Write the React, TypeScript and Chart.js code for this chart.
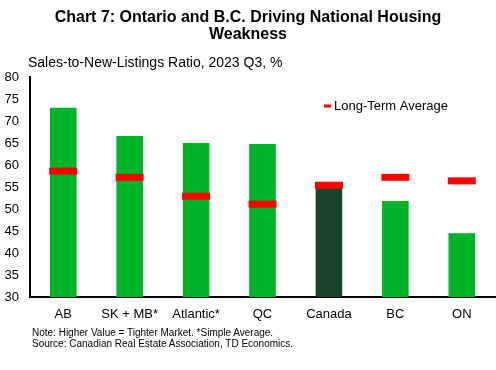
import React, { useEffect, useRef } from "react";
import { Chart, registerables } from "chart.js";

Chart.register(...registerables);

const categories = ["AB", "SK + MB*", "Atlantic*", "QC", "Canada", "BC", "ON"];
const currentValues = [73.0, 66.6, 65.0, 64.8, 55.1, 51.8, 44.5];
const longTermAverage = [58.6, 57.2, 52.9, 51.1, 55.4, 57.2, 56.4];
const barColors = ["#00B427", "#00B427", "#00B427", "#00B427", "#1A4429", "#00B427", "#00B427"];
const yMin = 30;
const yMax = 80;
const yStep = 5;

const FONT = "'Liberation Sans', Arial, sans-serif";

const legendPlugin = {
  id: "customLegend",
  afterDraw(chart: any) {
    const ctx = chart.ctx;
    ctx.save();
    ctx.strokeStyle = "#FF0000";
    ctx.lineWidth = 3;
    ctx.beginPath();
    ctx.moveTo(324, 106);
    ctx.lineTo(331, 106);
    ctx.stroke();
    ctx.fillStyle = "#000";
    ctx.font = `13px ${FONT}`;
    ctx.textBaseline = "middle";
    ctx.textAlign = "left";
    ctx.fillText("Long-Term Average", 334, 106);
    ctx.restore();
  },
};

export default function App() {
  const canvasRef = useRef<HTMLCanvasElement | null>(null);

  useEffect(() => {
    document.body.style.margin = "0";
    const canvas = canvasRef.current;
    if (!canvas) return;
    const chart = new Chart(canvas, {
      type: "bar",
      data: {
        labels: categories,
        datasets: [
          {
            type: "line",
            label: "Long-Term Average",
            data: longTermAverage,
            showLine: false,
            pointStyle: "line",
            pointRadius: 14,
            pointHoverRadius: 14,
            pointBorderWidth: 7,
            pointHoverBorderWidth: 7,
            borderColor: "#FF0000",
            backgroundColor: "#FF0000",
            clip: false,
            order: 0,
          } as any,
          {
            type: "bar",
            label: "Sales-to-New-Listings Ratio",
            data: currentValues,
            backgroundColor: barColors,
            categoryPercentage: 1,
            barPercentage: 0.4,
            order: 1,
          },
        ],
      },
      options: {
        animation: false,
        responsive: false,
        layout: { autoPadding: false, padding: { left: 0, right: 1, top: 77, bottom: 48 } },
        plugins: {
          legend: { display: false },
          tooltip: { enabled: false },
          title: { display: false },
        },
        scales: {
          x: {
            grid: { display: false, drawTicks: false },
            border: { display: true, color: "#000", width: 2 },
            ticks: { color: "#000", font: { family: FONT, size: 13 }, padding: 10, maxRotation: 0, autoSkip: false },
            afterFit: (scale: any) => {
              scale.height = 25;
            },
          },
          y: {
            min: yMin,
            max: yMax,
            grid: { display: false, drawTicks: false },
            border: { display: true, color: "#000", width: 2 },
            ticks: { stepSize: yStep, color: "#000", font: { family: FONT, size: 13 }, padding: 11 },
            afterFit: (scale: any) => {
              scale.width = 30;
            },
          },
        },
      } as any,
      plugins: [legendPlugin],
    });
    return () => chart.destroy();
  }, []);

  return (
    <div style={{ position: "relative", width: 496, height: 370, fontFamily: FONT, background: "#fff" }}>
      <canvas ref={canvasRef} width={496} height={370} style={{ position: "absolute", left: 0, top: 0 }} />
      <div
        style={{
          position: "absolute",
          left: 0,
          width: 496,
          top: 8,
          textAlign: "center",
          fontWeight: "bold",
          fontSize: 16,
          lineHeight: "17px",
          color: "#000",
        }}
      >
        Chart 7: Ontario and B.C. Driving National Housing
        <br />
        Weakness
      </div>
      <div style={{ position: "absolute", left: 28, top: 54, fontSize: 14, lineHeight: "16px", color: "#000" }}>
        Sales-to-New-Listings Ratio, 2023 Q3, %
      </div>
      <div style={{ position: "absolute", left: 32, top: 327, fontSize: 10, lineHeight: "11px", color: "#000" }}>
        Note: Higher Value = Tighter Market. *Simple Average.
        <br />
        Source: Canadian Real Estate Association, TD Economics.
      </div>
    </div>
  );
}
